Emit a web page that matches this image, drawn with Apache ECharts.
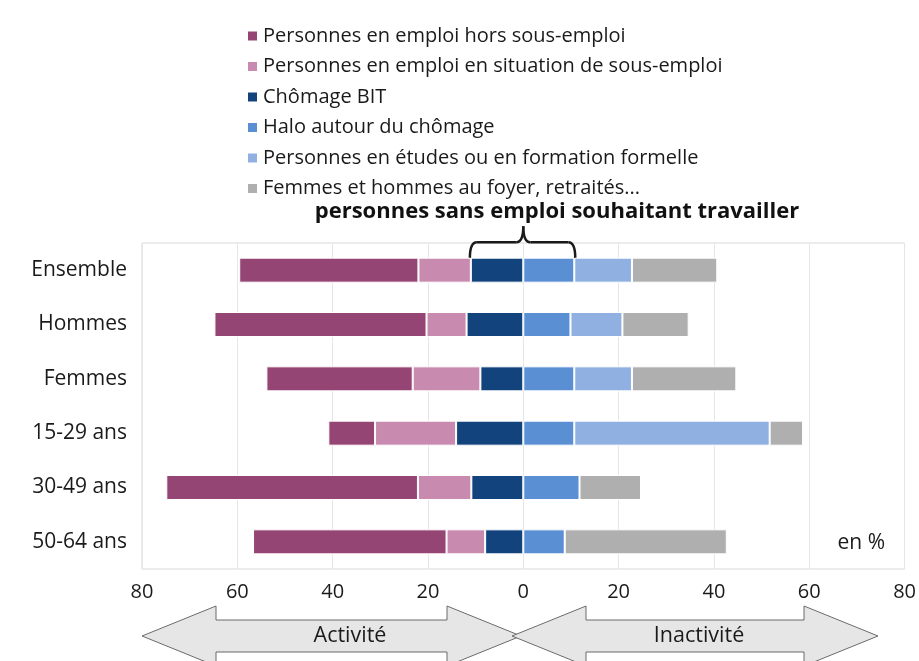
<!DOCTYPE html>
<html lang="fr">
<head>
    <meta charset="UTF-8">
    <title>Activité et inactivité</title>
    <script src="https://cdn.jsdelivr.net/npm/echarts@6/dist/echarts.min.js"></script>
    <style>
        html, body { margin: 0; padding: 0; background: #fff; }
        #chart { width: 919px; height: 661px; }
    </style>
</head>
<body>
    <div id="chart"></div>
    <script>
        // données (en %)
        const categories = ['Ensemble', 'Hommes', 'Femmes', '15-29 ans', '30-49 ans', '50-64 ans'];
        const horsSousEmploi = [37.6, 44.5, 30.7, 9.8, 52.8, 40.6];
        const sousEmploi = [11.0, 8.4, 14.2, 17.0, 11.2, 8.1];
        const chomageBIT = [11.0, 11.9, 9.0, 14.1, 10.9, 8.0];
        const halo = [10.7, 9.9, 10.7, 10.7, 11.8, 8.7];
        const etudes = [12.1, 10.9, 12.1, 41.0, 0, 0];
        const foyer = [17.9, 13.9, 21.9, 7.0, 12.9, 34.0];

        const names = {
            hors: 'Personnes en emploi hors sous-emploi',
            sous: 'Personnes en emploi en situation de sous-emploi',
            chom: 'Chômage BIT',
            halo: 'Halo autour du chômage',
            etud: 'Personnes en études ou en formation formelle',
            foyer: 'Femmes et hommes au foyer, retraités...'
        };

        const font = '"Open Sans", "DejaVu Sans", sans-serif';
        const chart = echarts.init(document.getElementById('chart'));

        function bar(name, values, color, sign) {
            return {
                name: name,
                type: 'bar',
                stack: 'total',
                barWidth: 25,
                data: values.map(v => sign * v),
                itemStyle: { color: color, borderColor: '#fff', borderWidth: 1 },
                emphasis: { disabled: true }
            };
        }

        // ordre des séries = ordre d'empilement depuis 0
        const series = [
            bar(names.chom, chomageBIT, '#12437c', -1),
            bar(names.sous, sousEmploi, '#c98ab0', -1),
            bar(names.hors, horsSousEmploi, '#954573', -1),
            bar(names.halo, halo, '#5b8fd4', 1),
            bar(names.etud, etudes, '#8fb0e0', 1),
            bar(names.foyer, foyer, '#b0afb0', 1)
        ];

        const option = {
            animation: false,
            textStyle: { fontFamily: font },
            legend: {
                data: [names.hors, names.sous, names.chom, names.halo, names.etud, names.foyer],
                orient: 'vertical',
                left: 241,
                top: 21,
                itemWidth: 11,
                itemHeight: 11,
                itemGap: 10.5,
                icon: 'rect',
                selectedMode: false,
                textStyle: { fontSize: 20, color: '#1a1a1a', lineHeight: 20, fontFamily: font }
            },
            grid: {
                left: 142, right: 14, top: 243, bottom: 92,
                show: true, borderColor: '#d9d9d9', borderWidth: 1
            },
            xAxis: {
                type: 'value',
                min: -80, max: 80, interval: 20,
                axisLine: { show: false },
                axisTick: { show: false },
                splitLine: { show: true, lineStyle: { color: '#e6e6e6' } },
                axisLabel: {
                    fontSize: 20, color: '#1a1a1a', margin: 13, fontFamily: font,
                    formatter: v => String(Math.abs(v))
                }
            },
            yAxis: {
                type: 'category',
                data: categories,
                inverse: true,
                axisLine: { show: false },
                axisTick: { show: false },
                axisLabel: { fontSize: 21, color: '#1a1a1a', margin: 15, fontFamily: font }
            },
            series: series
        };
        chart.setOption(option);

        // accolade au-dessus de "Ensemble" : chômage BIT + halo
        const pL = chart.convertToPixel({ gridIndex: 0 }, [-chomageBIT[0], categories[0]]);
        const pR = chart.convertToPixel({ gridIndex: 0 }, [halo[0], categories[0]]);
        const p0 = chart.convertToPixel({ gridIndex: 0 }, [0, categories[0]]);
        const x1 = pL[0] - 1, x2 = pR[0] + 1, xm = p0[0];
        const yb = pL[1] - 12, yt = yb - 16, yp = yt - 16, r = 7;
        const braceStyle = { fill: null, stroke: '#1a1a1a', lineWidth: 2.5 };
        const brace = [
            { type: 'bezierCurve', shape: { x1: x1, y1: yb, cpx1: x1, cpy1: yt, x2: x1 + r, y2: yt }, style: braceStyle },
            { type: 'line', shape: { x1: x1 + r, y1: yt, x2: xm - r, y2: yt }, style: braceStyle },
            { type: 'bezierCurve', shape: { x1: xm - r, y1: yt, cpx1: xm, cpy1: yt, x2: xm, y2: yp }, style: braceStyle },
            { type: 'bezierCurve', shape: { x1: xm, y1: yp, cpx1: xm, cpy1: yt, x2: xm + r, y2: yt }, style: braceStyle },
            { type: 'line', shape: { x1: xm + r, y1: yt, x2: x2 - r, y2: yt }, style: braceStyle },
            { type: 'bezierCurve', shape: { x1: x2 - r, y1: yt, cpx1: x2, cpy1: yt, x2: x2, y2: yb }, style: braceStyle }
        ];

        function arrow(xa, xb, yc) {
            const head = 74, hh = 30, sh = 16;
            return [
                [xa, yc], [xa + head, yc - hh], [xa + head, yc - sh],
                [xb - head, yc - sh], [xb - head, yc - hh], [xb, yc],
                [xb - head, yc + hh], [xb - head, yc + sh], [xa + head, yc + sh],
                [xa + head, yc + hh]
            ];
        }

        chart.setOption({
            graphic: brace.concat([
                {
                    type: 'text',
                    x: 557, y: 212,
                    style: {
                        text: 'personnes sans emploi souhaitant travailler',
                        font: 'bold 22px ' + font,
                        fill: '#111', align: 'center', verticalAlign: 'middle'
                    }
                },
                {
                    type: 'text',
                    x: 885, y: 543,
                    style: {
                        text: 'en %', font: '21px ' + font,
                        fill: '#1a1a1a', align: 'right', verticalAlign: 'middle'
                    }
                },
                {
                    type: 'polygon',
                    shape: { points: arrow(142, 521, 636) },
                    style: { fill: '#e6e6e6', stroke: '#6b6b6b', lineWidth: 1 }
                },
                {
                    type: 'polygon',
                    shape: { points: arrow(512, 878, 636) },
                    style: { fill: '#e6e6e6', stroke: '#6b6b6b', lineWidth: 1 }
                },
                {
                    type: 'text', x: 350, y: 636,
                    style: { text: 'Activité', font: '21.5px ' + font, fill: '#1a1a1a', align: 'center', verticalAlign: 'middle' }
                },
                {
                    type: 'text', x: 699, y: 636,
                    style: { text: 'Inactivité', font: '21.5px ' + font, fill: '#1a1a1a', align: 'center', verticalAlign: 'middle' }
                }
            ])
        });

        window.addEventListener('resize', () => chart.resize());
    </script>
</body>
</html>
